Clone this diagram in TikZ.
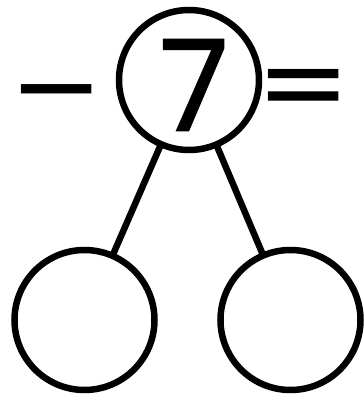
\documentclass[tikz,border=0pt]{standalone}
\usepackage{fontspec}
\setmainfont{Poppins}
\newfontfamily\numfont{Poppins}[FakeBold=1.3]
\newfontfamily\signfont{DejaVu Sans}
\usepackage{tikz}
\usetikzlibrary{positioning}

\begin{document}
\begin{tikzpicture}[every node/.style={font=\fontsize{72}{72}\numfont},
    bubble/.style={draw, circle, line width=0.13cm, minimum size=2.8cm,
                   inner sep=0pt, outer sep=0pt},
    link/.style={line width=0.13cm},
    sign/.style={font=\fontsize{64}{64}\signfont}]
  \useasboundingbox (0,0) rectangle (7.28,7.9);
  % number bond
  \node[bubble] (whole) at (3.78,6.30) {};
  \node (seven) at (3.88,6.20) {7};
  \node[bubble] (left) at (1.69,1.50) {};
  \node[bubble] (right) at (5.81,1.50) {};
  \draw[link] (whole) -- (left);
  \draw[link] (whole) -- (right);
  % signs
  \node[sign] (minus) at (1.14,5.80) {\char"2212};
  \node[sign] (equals) at (6.07,6.00) {=};
\end{tikzpicture}
\end{document}
